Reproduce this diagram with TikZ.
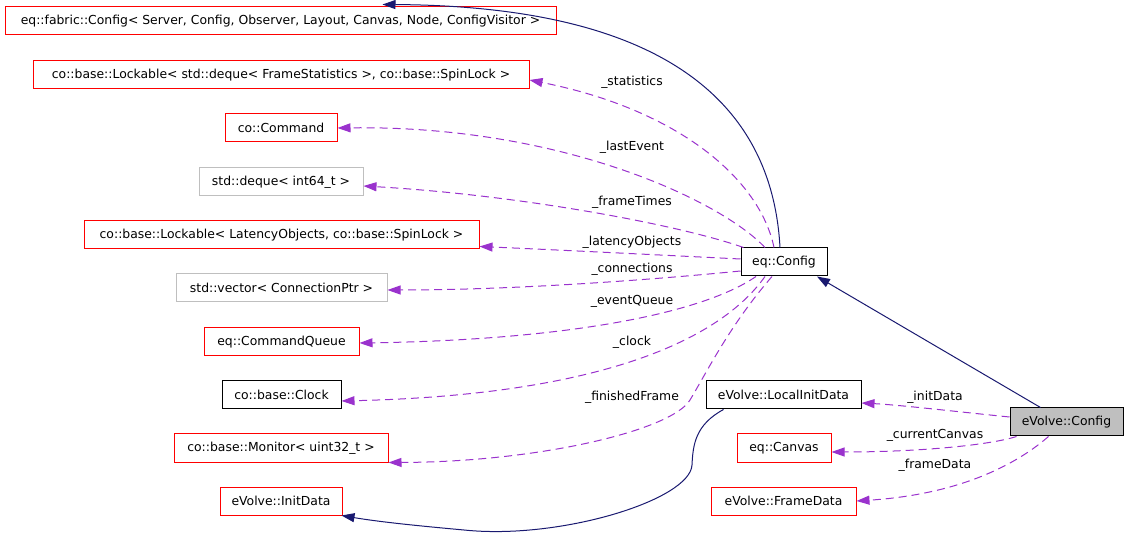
\documentclass[tikz,border=0pt]{standalone}
\usepackage{fontspec}
\setmainfont{DejaVu Sans}
\usetikzlibrary{arrows.meta}
\definecolor{inhblue}{RGB}{25,25,112}
\definecolor{usepurple}{RGB}{154,50,205}
\definecolor{boxred}{RGB}{255,0,0}
\definecolor{boxgray}{RGB}{191,191,191}

\begin{document}
\begin{tikzpicture}[x=1pt, y=-1pt, line width=1pt,
        cls/.style={draw=black,inner sep=0pt,minimum height=28pt,font=\fontsize{12.4}{15}\selectfont},
        undoc/.style={cls,draw=boxred},
        ext/.style={cls,draw=boxgray},
        cur/.style={cls,fill=boxgray},
        inherit/.style={draw=inhblue,-{Triangle[length=13pt,width=9pt]}},
        member/.style={draw=usepurple,dash pattern=on 8pt off 5pt,-{Triangle[length=13pt,width=9pt]}},
        lbl/.style={font=\fontsize{12.4}{15}\selectfont,inner sep=0pt}]
      \useasboundingbox (0,0) rectangle (1128,537);
      \def\lx{632}   % column of the left edge labels
      \def\rx{935}   % column of the right edge labels
      % left column
      \node[undoc,minimum width=551pt] (fabric)   at (280.5,21) {eq::fabric::Config< Server, Config, Observer, Layout, Canvas, Node, ConfigVisitor >};
      \node[undoc,minimum width=496pt] (stats)    at (281,75)   {co::base::Lockable< std::deque< FrameStatistics >, co::base::SpinLock >};
      \node[undoc,minimum width=112pt] (cmd)      at (281,128)  {co::Command};
      \node[ext,minimum width=164pt]   (times)    at (281,182)  {std::deque< int64\_t >};
      \node[undoc,minimum width=395pt] (latency)  at (281.5,235){co::base::Lockable< LatencyObjects, co::base::SpinLock >};
      \node[ext,minimum width=211pt]   (conns)    at (281.5,288){std::vector< ConnectionPtr >};
      \node[undoc,minimum width=155pt] (queue)    at (281.5,342){eq::CommandQueue};
      \node[cls,minimum width=119pt]   (clock)    at (281.5,395){co::base::Clock};
      \node[undoc,minimum width=214pt] (monitor)  at (281,448)  {co::base::Monitor< uint32\_t >};
      \node[undoc,minimum width=122pt] (initdata) at (281,501)  {eVolve::InitData};
      % right side
      \node[cls,minimum width=86pt]    (eqconfig)  at (784,262)   {eq::Config};
      \node[cls,minimum width=155pt]   (localinit) at (783.5,395) {eVolve::LocalInitData};
      \node[undoc,minimum width=94pt]  (canvas)    at (784,448)   {eq::Canvas};
      \node[undoc,minimum width=145pt] (framedata) at (783.5,501) {eVolve::FrameData};
      \node[cur,minimum width=113pt]   (config)    at (1066.5,422){eVolve::Config};
      % inheritance
      \draw[inherit] ([xshift=-26pt]config.north) -- ([xshift=33pt]eqconfig.south);
      \draw[inherit] ([xshift=-4pt]eqconfig.north) .. controls (772,100) and (660,6) .. ([xshift=102pt,yshift=2pt]fabric.north);
      \draw[inherit] ([xshift=-60pt]localinit.south) .. controls (695,425) and (693,445) .. (692,465)
        .. controls (690,500) and (560,540) .. (464,530) .. controls (420,526) and (380,522) .. ([xshift=-1pt]initdata.south east);
      % members of eq::Config
      \draw[member] ([xshift=-10pt]eqconfig.north) .. controls (760,180) and (680,110) .. ([yshift=-5pt]stats.east);
      \draw[member] ([xshift=-19pt]eqconfig.north) .. controls (720,200) and (560,125) .. (cmd.east);
      \draw[member] ([xshift=3pt]eqconfig.north west) .. controls (680,225) and (520,195) .. ([yshift=-4pt]times.east);
      \draw[member] ([yshift=3pt]eqconfig.west) .. controls (680,256) and (560,250) .. ([yshift=3pt]latency.south east);
      \draw[member] ([yshift=-9pt]eqconfig.west) .. controls (660,279) and (520,290) .. ([yshift=-2pt]conns.east);
      \draw[member] ([xshift=-28pt]eqconfig.south) .. controls (700,315) and (560,340) .. ([yshift=-1pt]queue.east);
      \draw[member] ([xshift=-19pt]eqconfig.south) .. controls (720,340) and (600,395) .. ([yshift=-6pt]clock.east);
      \draw[member] ([xshift=-12pt]eqconfig.south) .. controls (730,325) and (708,370) .. (690,400)
        .. controls (672,430) and (540,462) .. (monitor.south east);
      % members of eVolve::Config
      \draw[member] ([yshift=5pt]config.west) .. controls (960,412) and (900,405) .. ([yshift=-8pt]localinit.east);
      \draw[member] ([xshift=-50pt]config.south) .. controls (990,445) and (920,452) .. ([yshift=-4pt]canvas.east);
      \draw[member] ([xshift=-18pt]config.south) .. controls (1010,470) and (950,495) .. (framedata.east);
      % edge labels
      \node[lbl] (lstats)   at (\lx,82)  {\_statistics};
      \node[lbl] (levent)   at (\lx,147) {\_lastEvent};
      \node[lbl] (ltimes)   at (\lx,202) {\_frameTimes};
      \node[lbl] (llatency) at (\lx,242) {\_latencyObjects};
      \node[lbl] (lconns)   at (\lx,269) {\_connections};
      \node[lbl] (lqueue)   at (\lx,301) {\_eventQueue};
      \node[lbl] (lclock)   at (\lx,342) {\_clock};
      \node[lbl] (lframe)   at (\lx,397) {\_finishedFrame};
      \node[lbl] (linit)    at (\rx,397) {\_initData};
      \node[lbl] (lcanvas)  at (\rx,435) {\_currentCanvas};
      \node[lbl] (lfdata)   at (\rx,465) {\_frameData};
\end{tikzpicture}
\end{document}
